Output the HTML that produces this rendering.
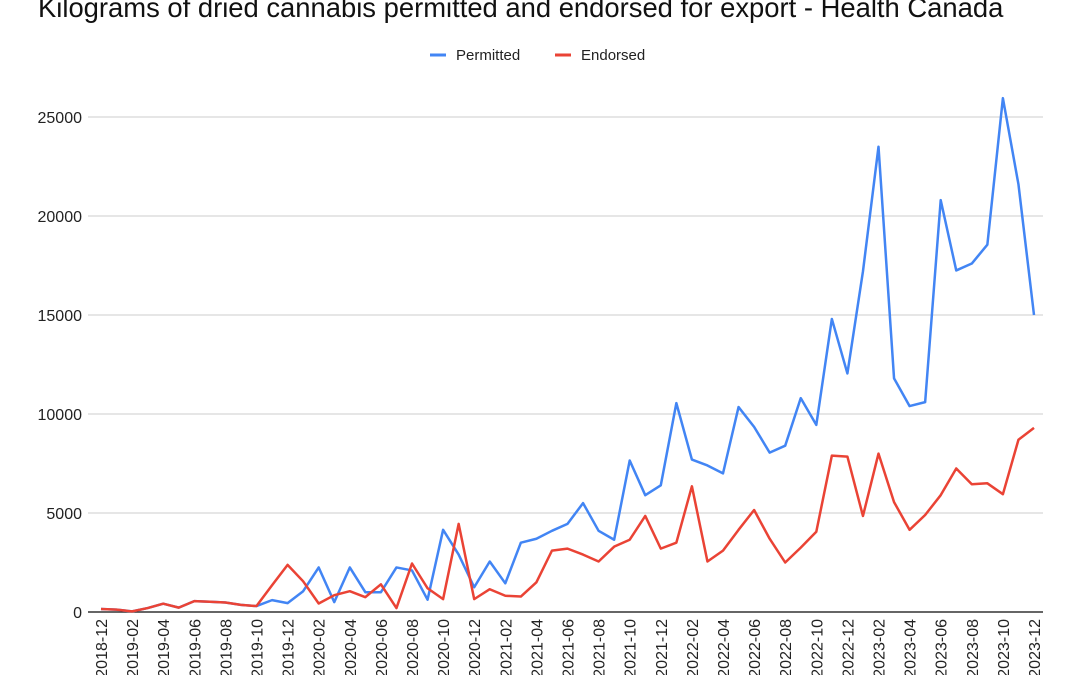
<!DOCTYPE html>
<html><head><meta charset="utf-8"><style>
body{margin:0;background:#fff;}
svg{display:block;font-family:"Liberation Sans",Arial,sans-serif;}
</style></head><body>
<svg id="chart" width="1080" height="675">
<text x="38" y="17" font-size="27.4" fill="#111">Kilograms of dried cannabis permitted and endorsed for export - Health Canada</text>
<g>
<g><line x1="430" y1="55" x2="446" y2="55" stroke="#4285f4" stroke-width="3"/><text x="456" y="60" font-size="15" fill="#222">Permitted</text></g>
<g><line x1="555" y1="55" x2="571" y2="55" stroke="#ea4335" stroke-width="3"/><text x="581" y="60" font-size="15" fill="#222">Endorsed</text></g>
</g>
<g id="grid"></g>
<g id="yaxis"></g>
<g id="xaxis"></g>
<g id="series"></g>
</svg>
<script>
const categories=[];
for(let y=2018,m=12;y<2024;){categories.push(y+'-'+String(m).padStart(2,'0'));m++;if(m>12){m=1;y++;}if(y===2024)break;}
const endorsed=[150,120,30,200,420,220,550,520,480,360,300,1350,2380,1550,430,850,1050,750,1400,200,2450,1200,650,4450,650,1150,820,780,1500,3100,3200,2900,2550,3300,3650,4850,3200,3500,6350,2550,3100,4150,5150,3700,2500,3250,4050,7900,7850,4850,8000,5550,4150,4900,5900,7250,6450,6500,5950,8700,9300];
const permitted=[150,120,30,200,420,220,550,520,480,360,300,600,450,1050,2250,500,2250,1000,1000,2250,2100,620,4150,2900,1250,2550,1450,3500,3700,4100,4450,5500,4100,3650,7650,5900,6400,10550,7700,7400,7000,10350,9350,8050,8400,10800,9450,14800,12050,17200,23500,11800,10400,10600,20800,17250,17600,18550,25950,21600,15000];
const yTicks=[0,5000,10000,15000,20000,25000];
const NS='http://www.w3.org/2000/svg';
const x0=88,x1=1043,y0=612;
const xs=i=>101+i*(1034-101)/(categories.length-1);
const ys=v=>y0-v*(495/25000);
function mk(t,a,p){const e=document.createElementNS(NS,t);for(const k in a)e.setAttribute(k,a[k]);p.appendChild(e);return e;}
const grid=document.getElementById('grid'),ya=document.getElementById('yaxis'),xa=document.getElementById('xaxis'),se=document.getElementById('series');
yTicks.forEach(v=>{
 if(v>0){const l=mk('line',{x1:x0,x2:x1,y1:ys(v),y2:ys(v),stroke:'#ccc','stroke-width':1},grid);
 
 }
 const t=mk('text',{x:82,y:ys(v)+6,'text-anchor':'end','font-size':16,fill:'#222'},ya);t.textContent=v;
 
 
});
const base=mk('line',{x1:x0,x2:x1,y1:y0,y2:y0,stroke:'#333','stroke-width':1.5},xa);


categories.forEach((c,i)=>{if(i%2)return;
 const t=mk('text',{transform:`translate(${xs(i)+6},619) rotate(-90)`,'text-anchor':'end','font-size':16,fill:'#222'},xa);t.textContent=c;
 
 
});
function line(d,col,name){const p=mk('polyline',{points:d.map((v,i)=>xs(i)+','+ys(v)).join(' '),fill:'none',stroke:col,'stroke-width':2.5,'stroke-linejoin':'round'},se);
 
 }
line(permitted,'#4285f4','permitted-line');
line(endorsed,'#ea4335','endorsed-line');
</script>
</body></html>
